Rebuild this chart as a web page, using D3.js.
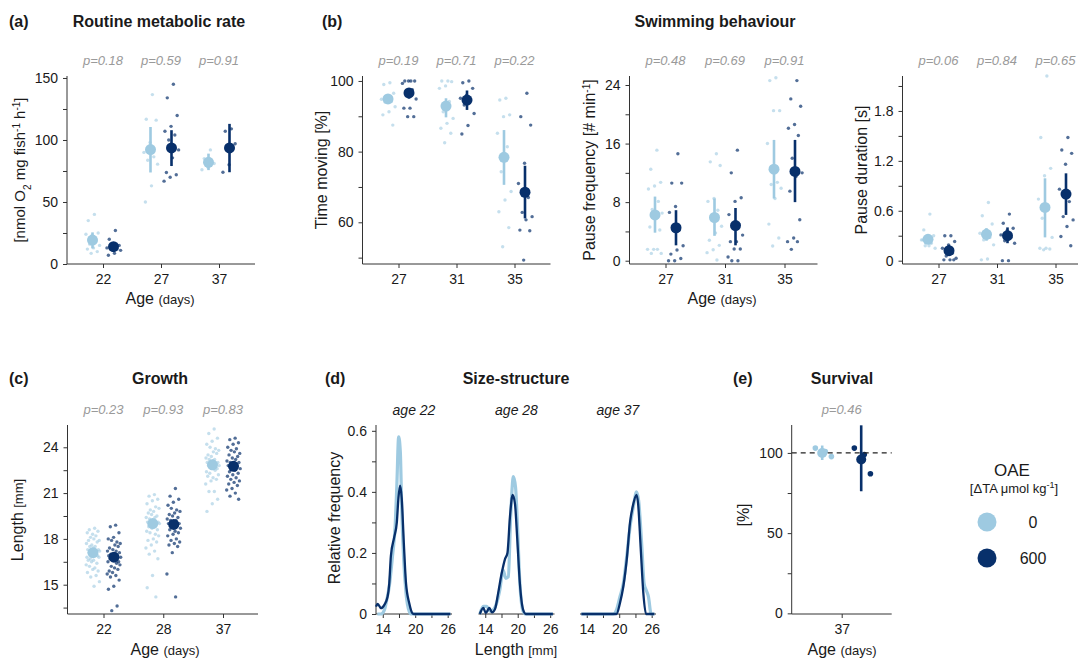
<!DOCTYPE html>
<html>
<head>
<meta charset="utf-8">
<title>OAE effects on larval fish</title>
<script src="https://cdn.jsdelivr.net/npm/d3@7"></script>
<style>
  body { margin: 0; background: #fff; }
  svg text { font-family: "Liberation Sans", Arial, Helvetica, sans-serif; fill: #1a1a1a; }
  .axis .tick text { font-size: 14px; fill: #1a1a1a; }
  .axis { color: #333; }
  .axline { stroke: #333; stroke-width: 1; }
  .ptxt { font-size: 13px; font-style: italic; fill: #9a9a9a; }
  .ttl { font-size: 16px; font-weight: bold; }
  .lab { font-size: 16px; }
  .small { font-size: 13px; }
  .facet { font-size: 14px; font-style: italic; }
</style>
</head>
<body>
<svg id="fig" width="1078" height="659"></svg>
<script>
// colours for the two OAE treatments
const col0 = "#9ecae1", col600 = "#08306b";

// (a) routine metabolic rate
const rmrAges = ["22", "27", "37"];
const rmrP = [0.18, 0.59, 0.91];
const rmrMean0 = [19.3, 92.3, 82.0];
const rmrLo0 = [12.6, 73.8, 75.7];
const rmrHi0 = [25.5, 110.5, 89.0];
const rmrMean600 = [14.0, 93.6, 93.6];
const rmrLo600 = [11.0, 79.0, 74.0];
const rmrHi600 = [16.6, 107.9, 113.0];
const rmrPts0 = [[40, 35, 25, 23, 24, 18, 16, 15, 13, 12, 10, 8.6],
                 [136.6, 116.7, 116, 98, 90, 86.4, 83.7, 80.5, 63, 50],
                 [92, 85, 81, 78, 76]];
const rmrPts600 = [[27, 20, 15, 14, 13, 12, 12, 11, 8.6, 7],
                   [145, 134, 119.7, 111, 107, 104, 100, 92, 85.6, 73.8, 72, 70, 66.8],
                   [109, 107, 97, 80, 74]];

// (b) swimming behaviour
const swimAges = ["27", "31", "35"];
const tmP = [0.19, 0.71, 0.22];
const tmMean0 = [94.9, 92.9, 78.4];
const tmLo0 = [93.5, 89.7, 70.6];
const tmHi0 = [96.0, 95.1, 86.1];
const tmMean600 = [96.6, 94.6, 68.5];
const tmLo600 = [95.0, 91.8, 61.1];
const tmHi600 = [97.9, 97.3, 76.0];
const tmPts0 = [[99.5, 99, 96.5, 95.5, 94.8, 94.2, 94, 92.7, 91.3, 90.4, 87.5],
                [100, 100, 99.8, 98.6, 97.9, 94.2, 91.3, 89.4, 88, 86.6, 85.2, 82.5],
                [95.1, 94.6, 90.4, 89.9, 85.2, 81.4, 74.3, 68.7, 66.3, 63, 58.5, 53.1]];
const tmPts600 = [[100, 100, 100, 100, 99.3, 97.5, 95.8, 94.9, 92.3, 92.3, 89.9, 89.9],
                  [100, 99.5, 97.9, 96, 95.1, 94.5, 93.2, 90.8, 87.4, 85],
                  [96.5, 89.9, 87.5, 76.7, 71, 67, 62.8, 61.6, 60.7, 57.8, 57.6, 49.3]];

const pfP = [0.48, 0.69, 0.91];
const pfMean0 = [6.25, 5.9, 12.5];
const pfLo0 = [3.83, 3.4, 8.5];
const pfHi0 = [8.76, 8.5, 16.5];
const pfMean600 = [4.5, 4.8, 12.2];
const pfLo600 = [2.1, 2.1, 8.0];
const pfHi600 = [6.9, 7.2, 16.5];
const pfPts0 = [[15.1, 12.5, 10.7, 10.2, 9.8, 8.1, 7.0, 6.5, 5.8, 4.6, 4.2, 1.55, 1.55, 1.55, 1.0, 1.0],
                [14.6, 13.5, 13.0, 8.5, 8.1, 6.9, 5.6, 4.7, 3.8, 2.8, 2.1, 1.5, 1.1, 0.1],
                [25, 24.6, 20.5, 20.5, 16, 10.7, 10.4, 9.9, 8.5, 5.0, 3.1, 2.0]];
const pfPts600 = [[14.6, 10.6, 10.6, 7.4, 6.6, 4.2, 4.2, 2.05, 1.46, 0.9, 0.3, 0, 0],
                  [15.1, 12.0, 8.6, 8.1, 6.3, 5.0, 5.0, 3.5, 2.6, 2.6, 1.6, 1.6, 0.5, 0, 0],
                  [24.6, 22.1, 21.1, 18.6, 18.1, 17.1, 14.0, 12.0, 11.5, 9.5, 5.6, 3.1, 2.6, 2.6, 1.55]];

const pdP = [0.06, 0.84, 0.65];
const pdMean0 = [0.257, 0.317, 0.64];
const pdLo0 = [0.20, 0.24, 0.28];
const pdHi0 = [0.31, 0.39, 0.99];
const pdMean600 = [0.12, 0.30, 0.80];
const pdLo600 = [0.056, 0.21, 0.55];
const pdHi600 = [0.19, 0.40, 1.05];
const pdPts0 = [[0.56, 0.37, 0.30, 0.28, 0.25, 0.21, 0.18, 0.15, 0.18, 0.25],
                [0.70, 0.54, 0.44, 0.37, 0.33, 0.28, 0.25, 0.19, 0.02, 0.01],
                [2.22, 1.48, 1.11, 1.02, 0.74, 0.62, 0.51, 0.28, 0.15, 0.15, 0.14, 0.13]];
const pdPts600 = [[0.30, 0.30, 0.23, 0.19, 0.15, 0.09, 0.056, 0.03, 0.01, 0.01, 0.01],
                  [0.56, 0.45, 0.39, 0.36, 0.31, 0.28, 0.24, 0.21, 0, 0],
                  [1.48, 1.33, 1.29, 1.16, 0.86, 0.71, 0.53, 0.49, 0.41, 0.29, 0.18]];

// (c) growth
const growAges = ["22", "28", "37"];
const gP = [0.23, 0.93, 0.83];
const gMean0 = [17.1, 19.0, 22.85];
const gLo0 = [16.9, 18.75, 22.65];
const gHi0 = [17.3, 19.25, 23.05];
const gMean600 = [16.8, 18.95, 22.75];
const gLo600 = [16.55, 18.7, 22.55];
const gHi600 = [17.05, 19.2, 22.95];
const gPts0 = [
  [18.7, 18.6, 18.5, 18.3, 18.4, 18.2, 18.1, 17.9, 18.0, 17.9, 17.8, 17.6, 17.7, 17.5, 17.5, 17.3, 17.4, 17.3,
   17.2, 17.1, 17.2, 17.0, 17.1, 16.9, 17.0, 16.8, 16.9, 16.7, 16.8, 16.6, 16.6, 16.4, 16.5, 16.3, 16.1, 16.2,
   15.9, 16.0, 15.8, 15.6, 15.5, 15.2, 14.9],
  [20.9, 20.8, 20.6, 20.5, 20.3, 20.1, 19.9, 20.0, 19.8, 19.7, 19.5, 19.6, 19.4, 19.4, 19.3, 19.1, 19.2, 19.1,
   19.0, 18.9, 19.0, 18.8, 18.8, 18.6, 18.7, 18.5, 18.3, 18.4, 18.2, 18.0, 17.9, 17.8, 17.6, 17.4, 17.2, 17.0,
   16.7, 15.6, 14.8, 14.2],
  [25.2, 24.9, 24.6, 24.4, 24.2, 23.9, 24.0, 23.8, 23.7, 23.5, 23.6, 23.4, 23.3, 23.2, 23.2, 23.0, 23.1, 23.0,
   22.9, 22.9, 22.8, 22.7, 22.8, 22.6, 22.6, 22.4, 22.5, 22.3, 22.2, 22.0, 22.1, 21.9, 21.8, 21.6, 21.1, 21.1,
   20.6, 20.3, 19.8]];
const gPts600 = [
  [18.9, 18.8, 18.4, 18.1, 18.0, 17.8, 17.9, 17.7, 17.6, 17.4, 17.5, 17.3, 17.2, 17.2, 17.0, 17.1, 17.0, 16.9,
   16.9, 16.8, 16.8, 16.7, 16.7, 16.5, 16.6, 16.5, 16.4, 16.2, 16.3, 16.1, 15.9, 16.0, 15.8, 15.7, 15.6, 15.5,
   15.3, 14.9, 14.7, 13.6, 13.3],
  [21.3, 20.8, 20.6, 20.4, 20.2, 19.9, 20.0, 19.8, 19.7, 19.6, 19.4, 19.5, 19.3, 19.2, 19.2, 19.0, 19.1, 19.0,
   18.9, 18.8, 18.7, 18.5, 18.6, 18.4, 18.3, 18.2, 18.0, 17.9, 17.8, 17.7, 17.6, 17.5, 17.1, 15.7, 14.2],
  [24.6, 24.5, 24.3, 24.2, 24.0, 23.9, 23.8, 23.6, 23.7, 23.5, 23.4, 23.3, 23.1, 23.2, 23.0, 23.0, 22.9, 22.8,
   22.8, 22.7, 22.6, 22.5, 22.4, 22.3, 22.2, 22.1, 22.0, 21.9, 21.8, 21.7, 21.6, 21.5, 21.3, 21.2, 21.0, 20.8,
   20.6]];

// (d) size-structure density curves, [length, relative frequency]
const sizeAges = ["age 22", "age 28", "age 37"];
const dens0 = [
  [[13.0, 0], [13.67, 0], [14.29, 0.013], [14.78, 0.05], [15.2, 0.09], [15.8, 0.19], [16.3, 0.29], [16.6, 0.42],
   [16.94, 0.58], [17.25, 0.53], [17.5, 0.35], [17.86, 0.18], [18.3, 0.068], [18.9, 0.008], [19.2, 0], [26.5, 0]],
  [[13.0, 0], [13.64, 0.025], [14.25, 0.025], [14.9, 0.009], [15.5, 0.014], [16.1, 0.036], [16.7, 0.08],
   [17.3, 0.144], [17.8, 0.117], [18.26, 0.122], [18.7, 0.32], [19.2, 0.45], [19.6, 0.415], [20.0, 0.27],
   [20.4, 0.10], [21.0, 0.009], [21.5, 0], [26.5, 0]],
  [[13.0, 0], [18.9, 0], [19.5, 0.014], [20.14, 0.057], [20.76, 0.10], [21.4, 0.19], [22.0, 0.285], [22.6, 0.35],
   [23.2, 0.40], [23.6, 0.37], [24.15, 0.23], [24.6, 0.10], [24.95, 0.08], [25.4, 0.057], [25.9, 0], [26.5, 0]]];
const dens600 = [
  [[12.75, 0.024], [13.06, 0.033], [13.67, 0.019], [14.29, 0.03], [14.9, 0.057], [15.2, 0.10], [15.5, 0.19],
   [16.1, 0.25], [16.6, 0.30], [16.9, 0.38], [17.2, 0.42], [17.5, 0.38], [17.9, 0.23], [18.3, 0.10],
   [18.9, 0.035], [19.5, 0.002], [19.8, 0], [26.5, 0]],
  [[13.0, 0], [13.64, 0.02], [14.1, 0.003], [14.75, 0.02], [15.25, 0.005], [15.8, 0.016], [16.4, 0.07],
   [17.0, 0.13], [17.65, 0.18], [18.1, 0.20], [18.57, 0.32], [19.06, 0.39], [19.5, 0.36], [19.9, 0.25],
   [20.4, 0.10], [21.0, 0.014], [21.5, 0], [26.5, 0]],
  [[13.0, 0], [19.5, 0], [20.14, 0.036], [20.76, 0.09], [21.4, 0.18], [22.0, 0.30], [22.6, 0.36], [23.2, 0.39],
   [23.5, 0.36], [23.96, 0.22], [24.46, 0.068], [24.95, 0], [26.5, 0]]];

// (e) survival
const survAges = ["37"];
const svP = [0.46];
const svMean0 = [100], svLo0 = [95.6], svHi0 = [104.6];
const svMean600 = [95.9], svLo600 = [76.1], svHi600 = [117.2];
const svPts0 = [[100.9, 103, 97.7]];
const svPts600 = [[99, 103, 87]];

const legendVals = ["0", "600"];

const svg = d3.select("#fig");

// deterministic horizontal spread for the raw points
function jit(k, w) { return (((k * 0.6180339887) % 1) - 0.5) * 2 * w; }

function yAxis(L, T, B, y, major, minor) {
  const ax = svg.append("g").attr("class", "axis").attr("transform", `translate(${L},0)`)
    .call(d3.axisLeft(y).tickValues(major.concat(minor)).tickSize(4).tickPadding(5)
      .tickFormat(d => major.includes(d) ? String(d) : ""));
  ax.select(".domain").remove();
  ax.attr("font-size", null).attr("font-family", null);
  svg.append("line").attr("class", "axline").attr("x1", L).attr("x2", L).attr("y1", T).attr("y2", B);
}

function xAxis(L, R, B, x, vals, minor) {
  const a = d3.axisBottom(x).tickSize(4).tickPadding(6);
  if (vals) a.tickValues(vals.concat(minor)).tickFormat(d => vals.includes(d) ? String(d) : "");
  const ax = svg.append("g").attr("class", "axis").attr("transform", `translate(0,${B})`).call(a);
  ax.select(".domain").remove();
  ax.attr("font-size", null).attr("font-family", null);
  svg.append("line").attr("class", "axline").attr("x1", L).attr("x2", R).attr("y1", B).attr("y2", B);
}

function stripPanel(c) {
  const x = d3.scalePoint().domain(c.cats).range(c.xr);
  const y = d3.scaleLinear().domain(c.yd).range([c.B, c.T]);
  yAxis(c.L, c.T, c.B, y, c.major, c.minor);
  xAxis(c.L, c.R, c.B, x);
  const g = svg.append("g");
  c.groups.forEach(gr => {
    c.cats.forEach((cat, i) => {
      const cx = x(cat) + gr.side * c.dodge;
      g.selectAll(null).data(gr.pts[i]).enter().append("circle")
        .attr("cx", (d, j) => cx + jit(j + 1, c.jw))
        .attr("cy", d => y(d))
        .attr("r", c.pr)
        .attr("fill", gr.col)
        .attr("fill-opacity", gr.pa);
    });
  });
  if (c.ref !== undefined) {
    g.append("line").attr("x1", c.L).attr("x2", c.R).attr("y1", y(c.ref)).attr("y2", y(c.ref))
      .attr("stroke", "#222").attr("stroke-width", 1.3).attr("stroke-dasharray", "5,4");
  }
  c.groups.forEach(gr => {
    c.cats.forEach((cat, i) => {
      const cx = x(cat) + gr.side * c.dodge;
      g.append("line").attr("x1", cx).attr("x2", cx)
        .attr("y1", y(gr.lo[i])).attr("y2", y(gr.hi[i]))
        .attr("stroke", gr.col).attr("stroke-width", 2.6);
      g.append("circle").attr("cx", cx).attr("cy", y(gr.mean[i])).attr("r", c.mr).attr("fill", gr.col);
    });
  });
  svg.selectAll(null).data(c.cats).enter().append("text")
    .attr("class", "ptxt").attr("text-anchor", "middle")
    .attr("x", d => x(d)).attr("y", c.T - 11)
    .text((d, i) => "p=" + c.p[i].toFixed(2));
}

function ylab(x, y, parts, size) {
  const t = svg.append("text").attr("class", "lab").attr("text-anchor", "middle")
    .attr("transform", `translate(${x},${y}) rotate(-90)`);
  if (size) t.style("font-size", size + "px");
  parts.forEach(p => {
    const s = t.append("tspan").text(p[0]);
    if (p[1] === "sub") s.attr("baseline-shift", "sub").style("font-size", "10px");
    if (p[1] === "sup") s.attr("baseline-shift", "super").style("font-size", "10px");
    if (p[1] === "small") s.style("font-size", "13px");
  });
}

function xlab(x, y, main, small) {
  const t = svg.append("text").attr("class", "lab").attr("text-anchor", "middle").attr("x", x).attr("y", y);
  t.append("tspan").text(main);
  t.append("tspan").attr("class", "small").text(small);
}

function title(tag, tx, name, nx, y) {
  svg.append("text").attr("class", "ttl").attr("x", tx).attr("y", y).text(tag);
  if (name) svg.append("text").attr("class", "ttl").attr("text-anchor", "middle").attr("x", nx).attr("y", y).text(name);
}

function grp(side, col, pa, mean, lo, hi, pts) {
  return { side: side, col: col, pa: pa, mean: mean, lo: lo, hi: hi, pts: pts };
}

// ---- top row
const TT = 76, TB = 264;
stripPanel({ L: 67, R: 255, T: TT, B: TB, xr: [103, 219], cats: rmrAges, yd: [0, 151.6],
  major: [0, 50, 100, 150], minor: [25, 75, 125], dodge: 10.5, jw: 8, pr: 1.7, mr: 5.5, p: rmrP,
  groups: [grp(-1, col0, 0.6, rmrMean0, rmrLo0, rmrHi0, rmrPts0),
           grp(1, col600, 0.7, rmrMean600, rmrLo600, rmrHi600, rmrPts600)] });
stripPanel({ L: 362.5, R: 550.5, T: TT, B: TB, xr: [398.5, 514.5], cats: swimAges, yd: [48.2, 101.4],
  major: [60, 80, 100], minor: [50, 70, 90], dodge: 10.5, jw: 8, pr: 1.7, mr: 5.5, p: tmP,
  groups: [grp(-1, col0, 0.6, tmMean0, tmLo0, tmHi0, tmPts0),
           grp(1, col600, 0.7, tmMean600, tmLo600, tmHi600, tmPts600)] });
stripPanel({ L: 629.5, R: 817.5, T: TT, B: TB, xr: [665.5, 784.5], cats: swimAges, yd: [-0.45, 25.23],
  major: [0, 8, 16, 24], minor: [4, 12, 20], dodge: 10.5, jw: 8, pr: 1.7, mr: 5.5, p: pfP,
  groups: [grp(-1, col0, 0.6, pfMean0, pfLo0, pfHi0, pfPts0),
           grp(1, col600, 0.7, pfMean600, pfLo600, pfHi600, pfPts600)] });
stripPanel({ L: 902.5, R: 1090, T: TT, B: TB, xr: [938.5, 1055.5], cats: swimAges, yd: [-0.04, 2.22],
  major: [0, 0.6, 1.2, 1.8], minor: [0.3, 0.9, 1.5, 2.1], dodge: 10.5, jw: 8, pr: 1.7, mr: 5.5, p: pdP,
  groups: [grp(-1, col0, 0.6, pdMean0, pdLo0, pdHi0, pdPts0),
           grp(1, col600, 0.7, pdMean600, pdLo600, pdHi600, pdPts600)] });

title("(a)", 9, "Routine metabolic rate", 159, 27);
title("(b)", 322, "Swimming behaviour", 715, 27);
ylab(25, 170, [["[nmol O"], ["2", "sub"], [" mg fish"], ["-1", "sup"], [" h"], ["-1", "sup"], ["]"]], 15);
ylab(327, 170, [["Time moving [%]"]]);
ylab(595, 170, [["Pause frequency [# min"], ["-1", "sup"], ["]"]]);
ylab(867, 170, [["Pause duration [s]"]]);
xlab(160, 304, "Age ", "(days)");
xlab(722, 304, "Age ", "(days)");

// ---- bottom row
const BT = 425, BB = 614;
stripPanel({ L: 67.5, R: 258, T: BT, B: BB, xr: [103.5, 223], cats: growAges, yd: [13.08, 25.46],
  major: [15, 18, 21, 24], minor: [13.5, 16.5, 19.5, 22.5], dodge: 10.5, jw: 7, pr: 1.7, mr: 5.5, p: gP,
  groups: [grp(-1, col0, 0.6, gMean0, gLo0, gHi0, gPts0),
           grp(1, col600, 0.7, gMean600, gLo600, gHi600, gPts600)] });

// (d) density facets
const facetL = [376, 478.5, 580], facetW = 76;
const dy = d3.scaleLinear().domain([0, 0.619]).range([BB, BT]);
yAxis(facetL[0], BT, BB, dy, [0, 0.2, 0.4, 0.6], [0.1, 0.3, 0.5]);
sizeAges.forEach((lab, i) => {
  const L = facetL[i];
  const dx = d3.scaleLinear().domain([12.75, 26.8]).range([L, L + facetW]);
  xAxis(L, L + facetW, BB, dx, [14, 20, 26], [17, 23]);
  const line = d3.line().x(d => dx(d[0])).y(d => dy(d[1])).curve(d3.curveMonotoneX);
  svg.append("path").attr("d", line(dens0[i])).attr("fill", "none")
    .attr("stroke", col0).attr("stroke-width", 3.2).attr("stroke-linejoin", "round");
  svg.append("path").attr("d", line(dens600[i])).attr("fill", "none")
    .attr("stroke", col600).attr("stroke-width", 2.3).attr("stroke-linejoin", "round");
  svg.append("text").attr("class", "facet").attr("text-anchor", "middle")
    .attr("x", L + facetW / 2).attr("y", 415).text(lab);
});

// (e) survival
stripPanel({ L: 791.7, R: 891.7, T: BT, B: BB, xr: [791.7, 891.7], cats: survAges, yd: [-0.4, 117.4],
  major: [0, 50, 100], minor: [25, 75], dodge: 19.5, jw: 13, pr: 2.8, mr: 5, p: svP, ref: 100,
  groups: [grp(-1, col0, 1, svMean0, svLo0, svHi0, svPts0),
           grp(1, col600, 1, svMean600, svLo600, svHi600, svPts600)] });

title("(c)", 9, "Growth", 160, 384);
title("(d)", 325, "Size-structure", 516, 384);
title("(e)", 733, "Survival", 842, 384);
ylab(23, 520, [["Length "], ["[mm]", "small"]]);
ylab(340, 518, [["Relative frequency"]]);
ylab(749, 515, [["[%]"]]);
xlab(165, 655, "Age ", "(days)");
xlab(516, 655, "Length ", "[mm]");
xlab(842, 655, "Age ", "(days)");

// legend
const leg = svg.append("g");
leg.append("text").attr("text-anchor", "middle").attr("x", 1012).attr("y", 476)
  .style("font-size", "17px").text("OAE");
const lt = leg.append("text").attr("text-anchor", "middle").attr("x", 1014).attr("y", 493).style("font-size", "13px");
lt.append("tspan").text("[ΔTA μmol kg");
lt.append("tspan").attr("baseline-shift", "super").style("font-size", "9px").text("-1");
lt.append("tspan").text("]");
leg.selectAll("circle").data(legendVals).enter().append("circle")
  .attr("cx", 987).attr("cy", (d, i) => 522 + i * 36).attr("r", 9.5)
  .attr("fill", (d, i) => i === 0 ? col0 : col600);
leg.selectAll("text.lv").data(legendVals).enter().append("text").attr("class", "lv")
  .attr("text-anchor", "middle").attr("x", 1033).attr("y", (d, i) => 528 + i * 36)
  .style("font-size", "16px").text(d => d);
</script>
</body>
</html>
